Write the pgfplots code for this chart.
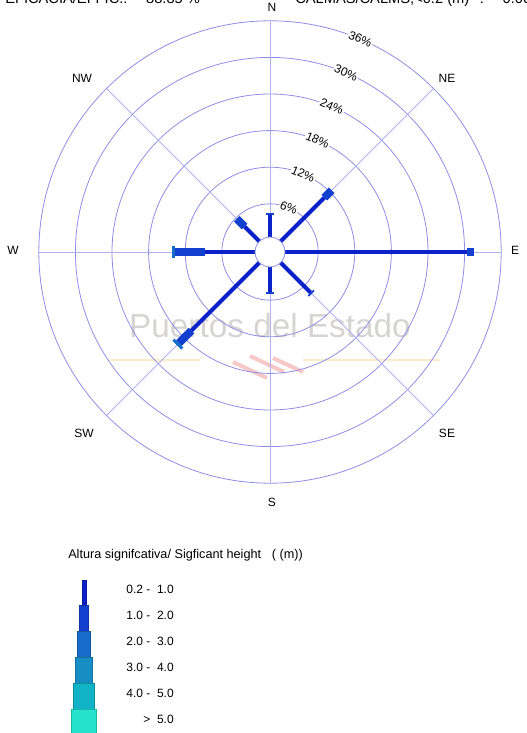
\documentclass[border=0pt]{standalone}
\usepackage{fontspec}
\setmainfont{Liberation Sans}
\usepackage{pgfplots}
\pgfplotsset{compat=1.18}
\definecolor{cA}{RGB}{12,34,200}
\definecolor{cB}{RGB}{20,64,208}
\definecolor{cC}{RGB}{22,108,200}
\definecolor{cD}{RGB}{22,142,196}
\definecolor{cE}{RGB}{16,180,198}
\definecolor{cF}{RGB}{36,226,204}
\definecolor{ringc}{RGB}{142,142,230}
\definecolor{spokec}{RGB}{176,176,240}
\definecolor{wmark}{RGB}{216,211,211}
\newcommand\off{1.9}
% one stacked segment of a direction: style, angle (deg), start %, end %
\newcommand\seg[4]{%
  \addplot[#1, data cs=polar, mark=none, forget plot]
    table[row sep=\\, x=a, y expr=\thisrow{r}+\off] {a r\\ #2 #3\\ #2 #4\\};}
\begin{document}
\begin{tikzpicture}[x=0.75pt,y=0.75pt]
\useasboundingbox (0,0) rectangle (526,733);
% header (cut at the top of the page)
\node[anchor=base west, inner sep=0pt, font=\fontsize{11}{11}\selectfont] at (5,729) {EFICACIA/EFFIC.:\hspace{14pt}88.85 \%};
\node[anchor=base west, inner sep=0pt, font=\fontsize{11}{11}\selectfont] at (295,729) {CALMAS/CALMS,<0.2 (m)\hspace{8pt}:\hspace{14pt}0.00 \%};
% watermark
\draw[color={rgb,255:red,250;green,236;blue,200}, line width=1pt] (110,373) -- (200,373);
\draw[color={rgb,255:red,250;green,236;blue,200}, line width=1pt] (303,373) -- (440,373);
\draw[color={rgb,255:red,246;green,200;blue,200}, line width=3pt] (233,371) -- (267,355);
\draw[color={rgb,255:red,246;green,200;blue,200}, line width=3pt] (250,377) -- (284,361);
\draw[color={rgb,255:red,246;green,200;blue,200}, line width=3pt] (273,375) -- (303,361);
\node[anchor=base, inner sep=0pt, text=wmark, font=\fontsize{25}{25}\selectfont] at (270,395) {Puertos del Estado};
\begin{axis}[at={(202.5pt,360.75pt)}, anchor=center, x=4.575pt, y=4.575pt,
  xmin=-40, xmax=40, ymin=-40, ymax=40, hide axis, clip=false]
  % grid rings and spokes
  \pgfplotsinvokeforeach{6,12,18,24,30,36}{
    \draw[ringc, line width=0.6pt] (axis cs:0,0) circle[radius=\off+#1];
  }
  \pgfplotsinvokeforeach{0,45,90,135,180,225,270,315}{
    \draw[spokec, line width=0.6pt] (axis cs:{2.4*cos(#1)},{2.4*sin(#1)}) -- (axis cs:{37.9*cos(#1)},{37.9*sin(#1)});
  }
  \pgfplotsinvokeforeach{6,12,18,24,30,36}{
    \node[fill=white, inner sep=0.8pt, rotate=-23, font=\fontsize{9}{9}\selectfont]
      at (axis cs:{(\off+#1)*cos(67)},{(\off+#1)*sin(67)}) {#1\%};
  }
  % 0.2 - 1.0
  \seg{cA, line width=3pt}{0}{0}{30.4}
  \seg{cA, line width=3pt}{45}{0}{10.7}
  \seg{cA, line width=3pt}{90}{0}{4.2}
  \seg{cA, line width=3pt}{135}{0}{4.0}
  \seg{cA, line width=3pt}{180}{0}{8.8}
  \seg{cA, line width=3pt}{225}{0}{16.3}
  \seg{cA, line width=3pt}{270}{0}{4.7}
  \seg{cA, line width=3pt}{315}{0}{7.5}
  % 1.0 - 2.0
  \seg{cB, line width=6pt}{0}{30.4}{31.5}
  \seg{cB, line width=6pt}{45}{10.7}{12.4}
  \seg{cB, line width=6pt}{90}{4.2}{4.5}
  \seg{cB, line width=6pt}{135}{4.0}{5.8}
  \seg{cB, line width=5.5pt}{180}{8.8}{13.7}
  \seg{cB, line width=6pt}{225}{16.3}{19.2}
  \seg{cB, line width=6pt}{270}{4.7}{5.0}
  \seg{cB, line width=6pt}{315}{7.5}{7.8}
  % 2.0 - 3.0
  \seg{cC, line width=9.4pt}{180}{13.7}{14.2}
  \seg{cC, line width=9.4pt}{225}{19.2}{19.7}
  % calm circle
  \draw[ringc, line width=0.6pt, fill=white] (axis cs:0,0) circle[radius=2.45];
\end{axis}
% direction labels
\begin{scope}[font=\fontsize{9}{9}\selectfont]
\node at (272,726) {N};
\node at (447,655) {NE};
\node at (515,483) {E};
\node at (447,300) {SE};
\node at (272,231) {S};
\node at (84,300) {SW};
\node at (13,483) {W};
\node at (82,655) {NW};
\end{scope}
% legend
\node[anchor=west, inner sep=0pt, font=\fontsize{9.5}{9.5}\selectfont] at (68,178) {Altura signifcativa/ Sigficant height\hspace{8pt}( (m))};
\fill[cA, draw=cA!80!black, line width=0.3pt] (81.7,153) rectangle (85.7,128);
\fill[cB, draw=cB!80!black, line width=0.3pt] (79.0,128) rectangle (88.4,101.3);
\fill[cC, draw=cC!80!black, line width=0.3pt] (76.8,101.3) rectangle (90.5,76);
\fill[cD, draw=cD!80!black, line width=0.3pt] (75.0,76) rectangle (92.4,50);
\fill[cE, draw=cE!80!black, line width=0.3pt] (73.0,50) rectangle (94.4,24);
\fill[cF, draw=cF!80!black, line width=0.3pt] (71.2,24) rectangle (96.2,-2);
\begin{scope}[font=\fontsize{9}{9}\selectfont]
\node[anchor=east, inner sep=0pt] at (174,144) {0.2 -\ \ 1.0};
\node[anchor=east, inner sep=0pt] at (174,118) {1.0 -\ \ 2.0};
\node[anchor=east, inner sep=0pt] at (174,92) {2.0 -\ \ 3.0};
\node[anchor=east, inner sep=0pt] at (174,66) {3.0 -\ \ 4.0};
\node[anchor=east, inner sep=0pt] at (174,40) {4.0 -\ \ 5.0};
\node[anchor=east, inner sep=0pt] at (174,14) {>\ \ 5.0};
\end{scope}
\end{tikzpicture}
\end{document}
